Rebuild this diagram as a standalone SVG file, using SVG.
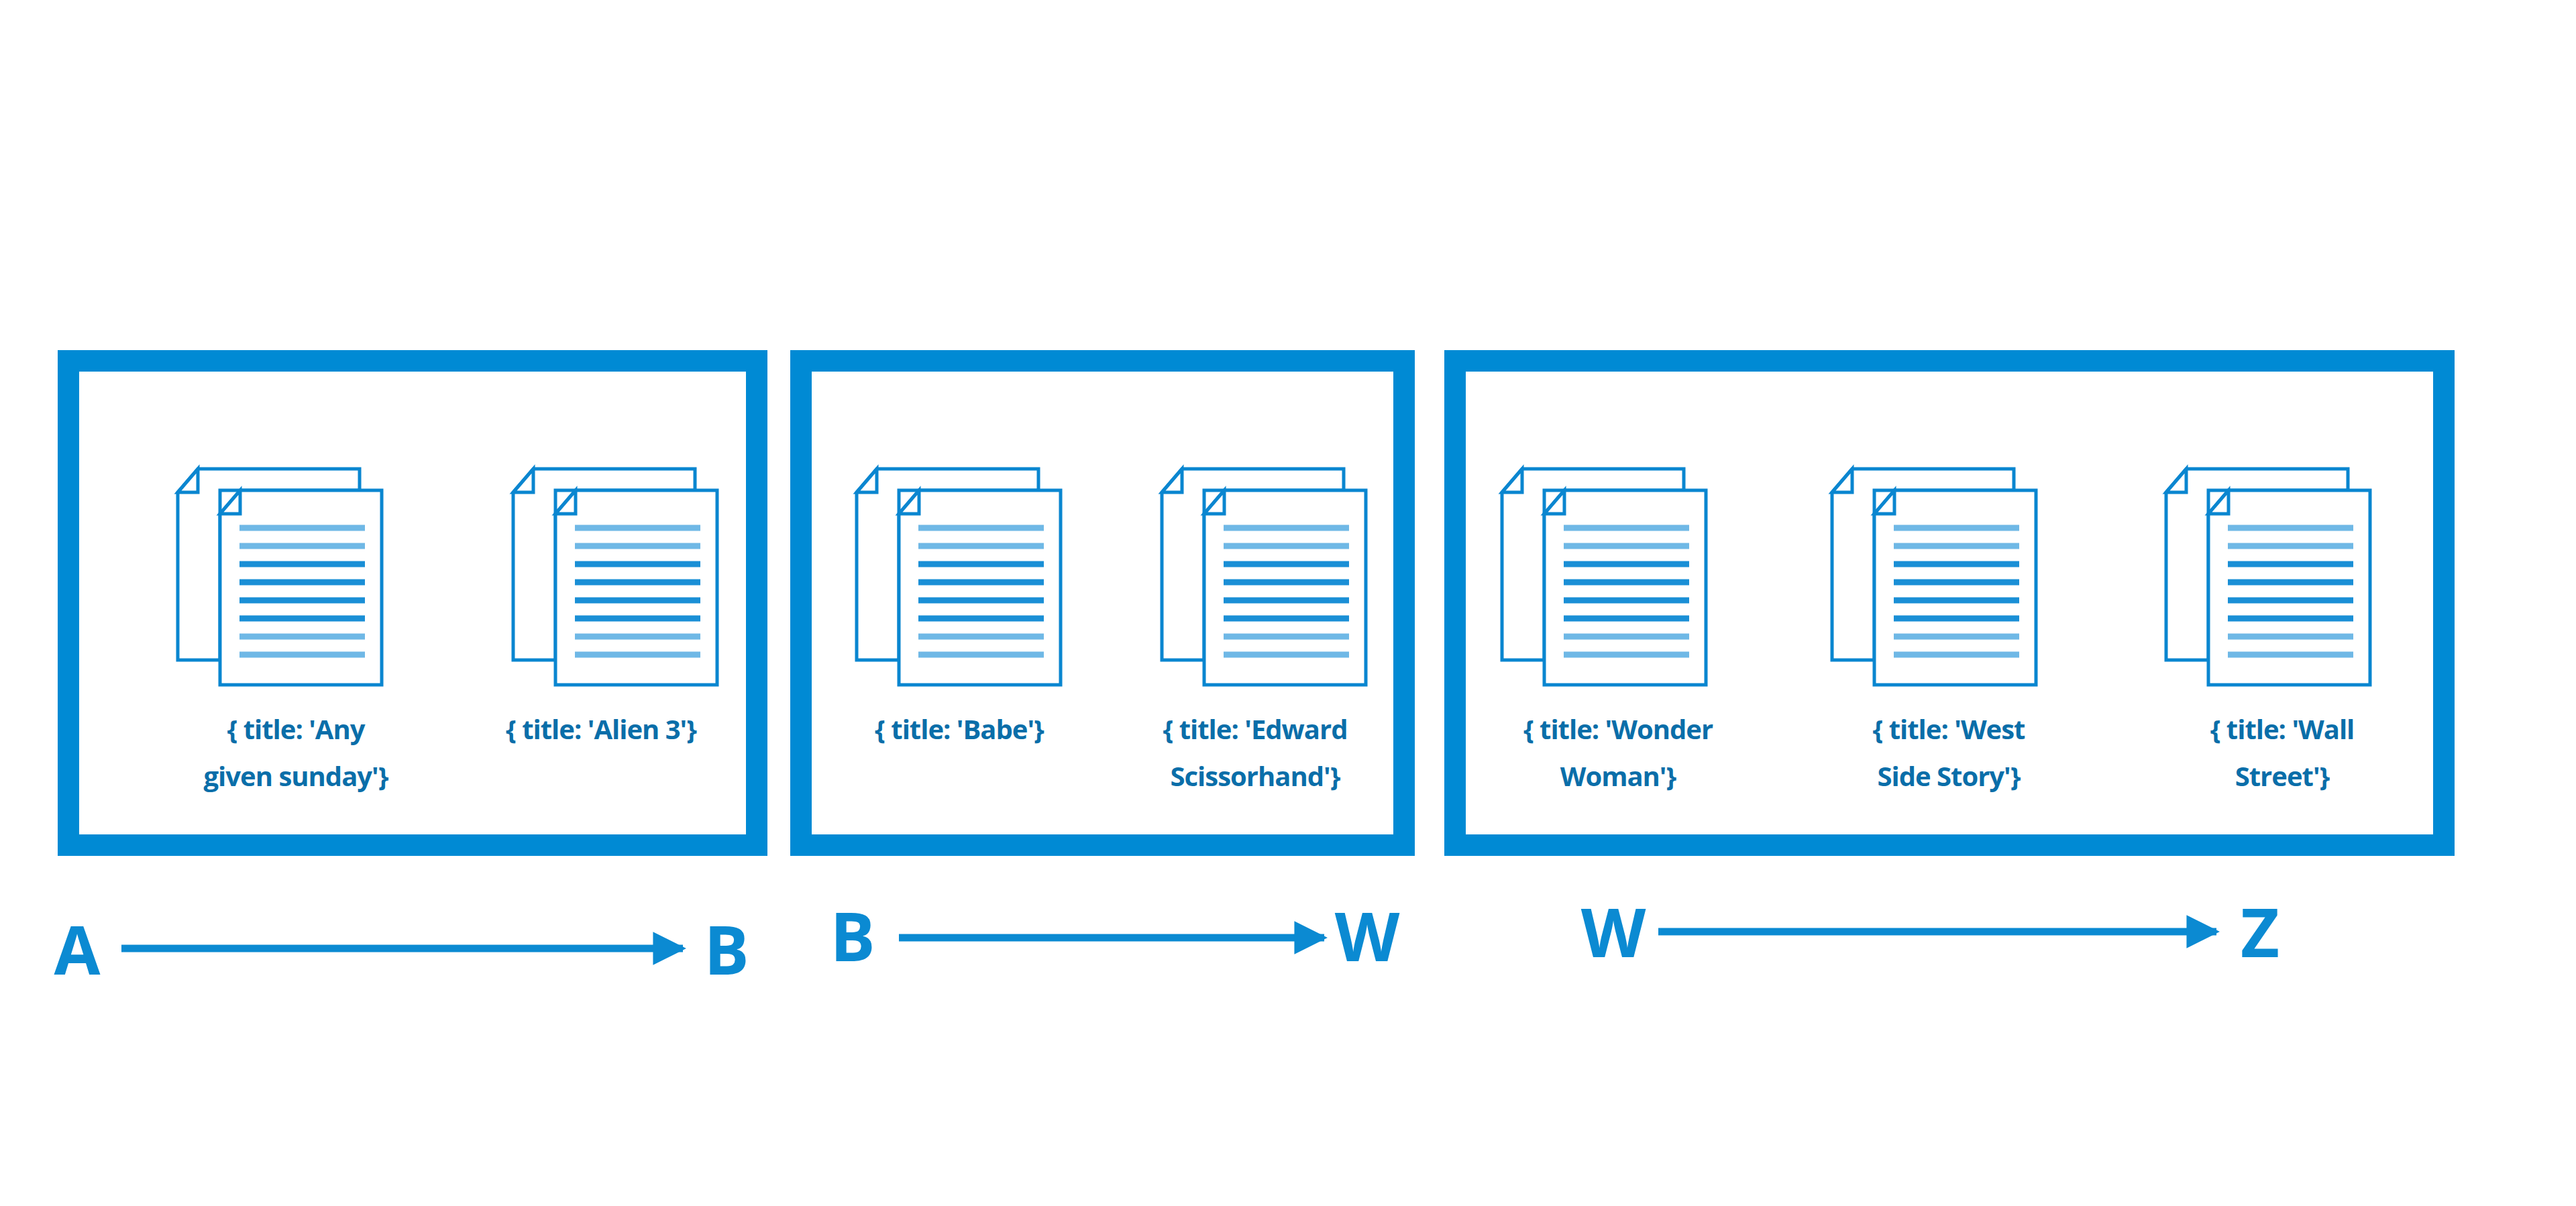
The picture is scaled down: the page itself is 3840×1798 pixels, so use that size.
<svg xmlns="http://www.w3.org/2000/svg" xmlns:xlink="http://www.w3.org/1999/xlink" width="3840" height="1798" viewBox="0 0 3840 1798">
<style>
.box{fill:none;stroke:#008ad4;stroke-width:32}
.pg{fill:#fff;stroke:#0a86d0;stroke-width:5}
.ln{stroke:#1a8fd6;stroke-width:9}
.ln2{stroke:#6fb8e6;stroke-width:9}
.t{font-family:"Open Sans","Liberation Sans",sans-serif;font-weight:bold;font-size:40px;letter-spacing:-1px;fill:#0a6ea9;text-anchor:middle}
.lb{font-family:"Open Sans","Liberation Sans",sans-serif;font-weight:bold;font-size:100px;fill:#0b8ad2;text-anchor:middle}
.ar{stroke:#0b8ad2;stroke-width:11;fill:none}
</style>
<defs>
<g id="doc">
<path class="pg" d="M-33,-32 H208 V0 H0 V253 H-63 V3 Z"/>
<path class="pg" d="M-63,3 L-33,-32 V3 Z"/>
<path class="pg" d="M30,0 H241 V290 H0 V35 Z"/>
<path class="pg" d="M0,35 L30,0 V35 Z"/>
<line class="ln2" x1="29" y1="56" x2="216" y2="56"/>
<line class="ln2" x1="29" y1="83" x2="216" y2="83"/>
<line class="ln" x1="29" y1="110" x2="216" y2="110"/>
<line class="ln" x1="29" y1="137" x2="216" y2="137"/>
<line class="ln" x1="29" y1="164" x2="216" y2="164"/>
<line class="ln" x1="29" y1="191" x2="216" y2="191"/>
<line class="ln2" x1="29" y1="218" x2="216" y2="218"/>
<line class="ln2" x1="29" y1="245" x2="216" y2="245"/>
</g>
<marker id="ah" viewBox="0 0 10 10" refX="9" refY="5" markerWidth="4.5" markerHeight="4.5" orient="auto" markerUnits="strokeWidth">
<path d="M0,0 L10,5 L0,10 Z" fill="#0b8ad2"/>
</marker>
</defs>
<g id="box1"><rect class="box" x="102" y="538" width="1026" height="722"/></g>
<g id="box2"><rect class="box" x="1194" y="538" width="899" height="722"/></g>
<g id="box3"><rect class="box" x="2169" y="538" width="1474" height="722"/></g>
<g id="doc1"><use xlink:href="#doc" x="328" y="731"/><text class="t" x="441" y="1102">{ title: 'Any</text><text class="t" x="441" y="1172">given sunday'}</text></g>
<g id="doc2"><use xlink:href="#doc" x="828" y="731"/><text class="t" x="896" y="1102">{ title: 'Alien 3'}</text></g>
<g id="doc3"><use xlink:href="#doc" x="1340" y="731"/><text class="t" x="1430" y="1102">{ title: 'Babe'}</text></g>
<g id="doc4"><use xlink:href="#doc" x="1795" y="731"/><text class="t" x="1871" y="1102">{ title: 'Edward</text><text class="t" x="1871" y="1172">Scissorhand'}</text></g>
<g id="doc5"><use xlink:href="#doc" x="2302" y="731"/><text class="t" x="2412" y="1102">{ title: 'Wonder</text><text class="t" x="2412" y="1172">Woman'}</text></g>
<g id="doc6"><use xlink:href="#doc" x="2794" y="731"/><text class="t" x="2905" y="1102">{ title: 'West</text><text class="t" x="2905" y="1172">Side Story'}</text></g>
<g id="doc7"><use xlink:href="#doc" x="3292" y="731"/><text class="t" x="3402" y="1102">{ title: 'Wall</text><text class="t" x="3402" y="1172">Street'}</text></g>
<g id="labels">
<text class="lb" x="115" y="1453">A</text><text class="lb" x="1083" y="1453">B</text>
<text class="lb" x="1271" y="1433">B</text><text class="lb" x="2038" y="1433">W</text>
<text class="lb" x="2405" y="1427">W</text><text class="lb" x="3369" y="1427">Z</text>
</g>
<g id="connectors">
<line class="ar" x1="181" y1="1414" x2="1018" y2="1414" marker-end="url(#ah)"/>
<line class="ar" x1="1340" y1="1398" x2="1974" y2="1398" marker-end="url(#ah)"/>
<line class="ar" x1="2472" y1="1389" x2="3304" y2="1389" marker-end="url(#ah)"/>
</g>
</svg>
